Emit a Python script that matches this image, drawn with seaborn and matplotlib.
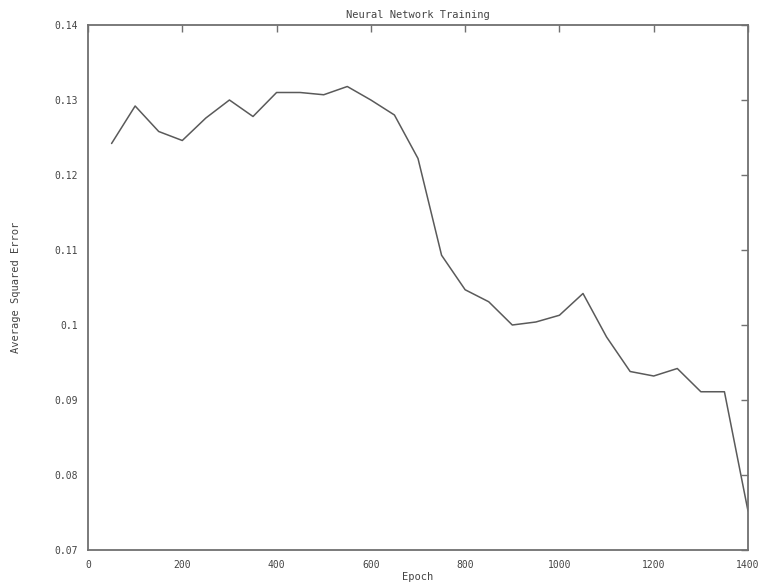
import matplotlib
matplotlib.use("Agg")
import matplotlib.pyplot as plt
import seaborn as sns
import pandas as pd

epochs = [50, 100, 150, 200, 250, 300, 350, 400, 450, 500, 550, 600, 650, 700,
          750, 800, 850, 900, 950, 1000, 1050, 1100, 1150, 1200, 1250, 1300, 1350, 1400]
errors = [0.1242, 0.1292, 0.1258, 0.1246, 0.1276, 0.1300, 0.1278, 0.1310, 0.1310, 0.1307,
          0.1318, 0.1300, 0.1280, 0.1222, 0.1093, 0.1047, 0.1031, 0.1000, 0.1004, 0.1013,
          0.1042, 0.0984, 0.0938, 0.0932, 0.0942, 0.0911, 0.0911, 0.0752]
x_ticks = [0, 200, 400, 600, 800, 1000, 1200, 1400]
y_ticks = [0.07, 0.08, 0.09, 0.10, 0.11, 0.12, 0.13, 0.14]
y_labels = ["0.07", "0.08", "0.09", "0.1", "0.11", "0.12", "0.13", "0.14"]

sns.set_style("white")
plt.rcParams['font.family'] = ['DejaVu Sans Mono', 'DejaVu Sans']

df = pd.DataFrame({"Epoch": epochs, "Error": errors})

fig = plt.figure(figsize=(7.71, 5.88), dpi=100)
ax = fig.add_axes([88/771, 1 - 550/588, (748 - 88)/771, (550 - 25)/588])
sns.lineplot(data=df, x="Epoch", y="Error", ax=ax, color="#5a5a5a", linewidth=1.1)

ax.set_xlim(0, 1400)
ax.set_ylim(0.07, 0.14)
ax.set_xticks(x_ticks)
ax.set_xticklabels([str(t) for t in x_ticks])
ax.set_yticks(y_ticks)
ax.set_yticklabels(y_labels)

for s in ax.spines.values():
    s.set_color("#707070")
    s.set_linewidth(1.3)
    s.set_visible(True)

ax.tick_params(axis="both", direction="in", length=5, width=1, color="#707070",
               labelsize=7, labelcolor="#444444", top=True, right=True, pad=7)

ax.set_title("Neural Network Training", fontsize=7.5, color="#444444", pad=5)
ax.set_xlabel("Epoch", fontsize=7.5, color="#444444", labelpad=2)
ax.set_ylabel("Average Squared Error", fontsize=7.5, color="#444444", labelpad=24)

fig.savefig("out.png", dpi=100)
